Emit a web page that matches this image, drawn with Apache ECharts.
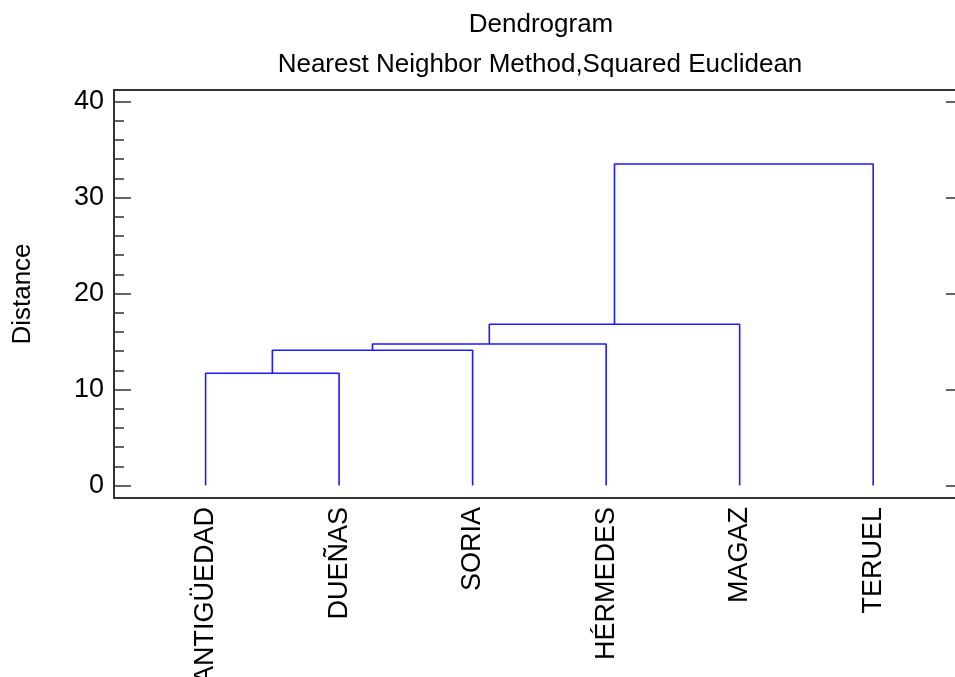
<!DOCTYPE html>
<html><head><meta charset="utf-8">
<script src="https://cdn.jsdelivr.net/npm/echarts@6/dist/echarts.min.js"></script>
<style>html,body{margin:0;padding:0;background:#fff}#c{width:955px;height:677px}</style>
</head><body><div id="c"></div>
<script>
const leaves = ['ANTIGÜEDAD','DUEÑAS','SORIA','HÉRMEDES','MAGAZ','TERUEL'];
// merges: node ids 0-5 are leaves, 6+ are clusters in merge order
const mergeA = [0, 6, 7, 8, 9];
const mergeB = [1, 2, 3, 4, 5];
const mergeHeights = [11.7, 14.1, 14.75, 16.8, 33.5];
const yMajorTicks = [0, 10, 20, 30, 40];
const yMinorTicks = [2,4,6,8,12,14,16,18,22,24,26,28,32,34,36,38];

const nodeX = leaves.map((_, i) => i);
const nodeH = leaves.map(() => 0);
const series = [];
mergeA.forEach((a, k) => {
  const b = mergeB[k], h = mergeHeights[k];
  series.push({
    type: 'line', symbol: 'none', silent: true, animation: false,
    lineStyle: { color: '#1a1aff', width: 1.6 },
    data: [[nodeX[a], nodeH[a]], [nodeX[a], h], [nodeX[b], h], [nodeX[b], nodeH[b]]]
  });
  nodeX.push((nodeX[a] + nodeX[b]) / 2);
  nodeH.push(h);
});

const axisColor = '#333';
const font = 'Liberation Sans, Arial, sans-serif';
const XMIN = -0.686, XMAX = 5.613, YMIN = -1.29, YMAX = 41.2;
const chart = echarts.init(document.getElementById('c'));
chart.setOption({
  animation: false,
  title: [
    { text: 'Dendrogram', left: 536, top: 7, textAlign: 'center',
      textStyle: { fontFamily: font, fontSize: 26, fontWeight: 'normal', color: '#000' } },
    { text: 'Nearest Neighbor Method,Squared Euclidean', left: 535, top: 47, textAlign: 'center',
      textStyle: { fontFamily: font, fontSize: 26, fontWeight: 'normal', color: '#000' } }
  ],
  grid: { left: 114, top: 90, right: 0, bottom: 179, containLabel: false, outerBoundsMode: 'none' },
  xAxis: [
    { type: 'value', position: 'bottom', min: XMIN, max: XMAX,
      axisLine: { show: true, onZero: false, lineStyle: { color: axisColor, width: 2 } },
      axisTick: { show: false }, splitLine: { show: false },
      axisLabel: { customValues: [0,1,2,3,4,5], rotate: 90, margin: 9,
        formatter: v => leaves[Math.round(v)],
        fontFamily: font, fontSize: 27, color: '#000' } },
    { type: 'value', position: 'top', min: XMIN, max: XMAX,
      axisLine: { show: true, onZero: false, lineStyle: { color: axisColor, width: 2 } },
      axisTick: { show: false }, axisLabel: { show: false }, splitLine: { show: false } }
  ],
  yAxis: [
    { type: 'value', position: 'left', min: YMIN, max: YMAX,
      name: 'Distance', nameLocation: 'middle', nameGap: 78, nameRotate: 90,
      nameTextStyle: { fontFamily: font, fontSize: 26, color: '#000' },
      axisLine: { show: true, onZero: false, lineStyle: { color: axisColor, width: 2 } },
      axisTick: { show: true, inside: true, length: 17, customValues: yMajorTicks,
        lineStyle: { color: axisColor, width: 1.5 } },
      axisLabel: { customValues: yMajorTicks, margin: 10,
        fontFamily: font, fontSize: 27, color: '#000' },
      splitLine: { show: false } },
    { type: 'value', position: 'left', min: YMIN, max: YMAX,
      axisLine: { show: false, onZero: false },
      axisTick: { show: true, inside: true, length: 10, customValues: yMinorTicks,
        lineStyle: { color: axisColor, width: 1.5 } },
      axisLabel: { show: false }, splitLine: { show: false } },
    { type: 'value', position: 'right', min: YMIN, max: YMAX,
      axisLine: { show: false, onZero: false },
      axisTick: { show: true, inside: true, length: 9, customValues: yMajorTicks,
        lineStyle: { color: axisColor, width: 1.5 } },
      axisLabel: { show: false }, splitLine: { show: false } }
  ],
  series: series
});
</script></body></html>
